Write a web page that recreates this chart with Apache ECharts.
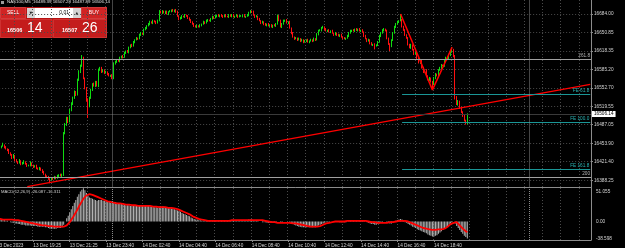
<!DOCTYPE html>
<html>
<head>
<meta charset="utf-8">
<script src="https://cdn.jsdelivr.net/npm/echarts@6/dist/echarts.min.js"></script>
<style>
  html, body { margin: 0; padding: 0; background: #000; }
  #chart { width: 625px; height: 248px; }
</style>
</head>
<body>
<div id="chart"></div>
<script>
// NAS100 M5, 13-14 Dec 2023 (FOMC spike)
const symbolName = 'NAS100,M5'
const firstOpen = 16440
const closes = [
  16442, 16444, 16447, 16449, 16451, 16447, 16444, 16442, 16437, 16433,
  16428, 16432, 16424, 16421, 16419, 16423, 16417, 16419, 16421, 16417,
  16414, 16415, 16419, 16414, 16412, 16414, 16410, 16408, 16410, 16407,
  16403, 16399, 16396, 16394, 16391, 16389, 16392, 16391, 16394, 16392,
  16396, 16398, 16396, 16399, 16472, 16487, 16499, 16492, 16513, 16524,
  16535, 16545, 16540, 16567, 16581, 16592, 16606, 16570, 16552, 16531,
  16520, 16535, 16549, 16559, 16556, 16563, 16556, 16584, 16588, 16581,
  16584, 16579, 16581, 16577, 16574, 16575, 16570, 16595, 16599, 16602,
  16600, 16606, 16609, 16607, 16615, 16618, 16616, 16624, 16629, 16627,
  16634, 16638, 16641, 16640, 16647, 16650, 16648, 16656, 16659, 16663,
  16666, 16670, 16668, 16672, 16670, 16668, 16673, 16688, 16686, 16689,
  16686, 16688, 16684, 16688, 16689, 16691, 16689, 16691, 16688, 16680,
  16675, 16677, 16680, 16679, 16682, 16680, 16677, 16673, 16670, 16666,
  16663, 16661, 16663, 16661, 16664, 16666, 16670, 16668, 16672, 16673,
  16672, 16675, 16679, 16677, 16680, 16682, 16680, 16682, 16680, 16679,
  16682, 16680, 16679, 16682, 16680, 16682, 16679, 16680, 16682, 16679,
  16680, 16680, 16682, 16679, 16680, 16682, 16686, 16689, 16688, 16682,
  16679, 16680, 16675, 16672, 16668, 16670, 16666, 16664, 16666, 16663,
  16664, 16661, 16664, 16663, 16666, 16680, 16673, 16661, 16666, 16672,
  16673, 16668, 16670, 16659, 16650, 16643, 16640, 16641, 16638, 16640,
  16636, 16638, 16634, 16636, 16638, 16634, 16636, 16638, 16636, 16640,
  16638, 16648, 16654, 16655, 16659, 16661, 16657, 16654, 16655, 16652,
  16654, 16650, 16647, 16650, 16647, 16645, 16647, 16643, 16641, 16640,
  16641, 16645, 16650, 16654, 16655, 16654, 16657, 16655, 16657, 16654,
  16655, 16652, 16645, 16640, 16636, 16638, 16632, 16629, 16630, 16627,
  16629, 16634, 16645, 16650, 16655, 16657, 16654, 16641, 16630, 16627,
  16638, 16650, 16661, 16666, 16670, 16672, 16673, 16662, 16655, 16647,
  16641, 16630, 16624, 16629, 16620, 16613, 16616, 16606, 16597, 16602,
  16588, 16581, 16584, 16574, 16567, 16570, 16563, 16559, 16570, 16577,
  16574, 16584, 16588, 16593, 16592, 16600, 16606, 16604, 16611, 16616,
  16620, 16609, 16536, 16524, 16529, 16517, 16510, 16503, 16495, 16489.39,
  16506.14
]
// wick lengths above / below the body, in points
const wickUp = [
  2, 1, 2, 1, 4, 1, 2, 1, 2, 1, 2, 3, 1, 2, 1, 3, 1, 2, 3, 1,
  2, 1, 3, 1, 2, 1, 2, 1, 2, 1, 1, 2, 1, 1, 2, 1, 2, 1, 2, 1,
  2, 1, 2, 1,
  2, 3, 2, 2, 2, 3, 2, 3, 2, 2, 3, 2, 5,
  2, 1, 2, 3, 2, 2, 2, 3, 2, 2,
  3, 2, 2, 2, 1, 2, 1, 2, 1, 2, 3, 2,
  2, 1, 2, 1, 2, 2, 1, 2, 2, 1, 2, 2,
  1, 2, 1, 2, 2, 1, 2, 2, 1, 2, 2, 1, 2, 1, 2, 1, 3,
  2, 2, 1, 2, 2, 1, 2, 1, 2, 1, 2, 2, 1,
  2, 2, 1, 2, 1, 2, 1, 2, 1, 2, 1, 2, 1,
  2, 1, 2, 1, 2, 2, 1, 2, 2, 1, 2, 1, 2, 1, 2, 2, 1, 2, 1, 2, 1, 2, 2, 1, 2, 1, 2,
  2, 1, 2, 1, 2, 2, 2, 1, 2, 1, 2, 1, 2, 1, 2, 1, 2, 1, 2, 1, 2, 1, 2, 2, 3, 2, 1, 2, 2, 1, 2, 1,
  2, 1, 2, 1, 2, 1, 2, 1, 2, 1, 2, 1, 2, 1, 2, 1, 2, 1,
  2, 2, 2, 2, 2, 1, 2, 1, 2, 1, 2, 1, 2, 1, 2, 1, 2, 1, 2, 1, 2, 2, 2, 1, 2, 1, 2, 1, 2, 1, 2,
  1, 2, 1, 2, 1, 2, 1, 2, 1, 2, 2, 2, 2, 2, 1, 2, 1, 2, 1, 2,
  2, 2, 2, 1, 11,
  2, 1, 2, 1, 2, 1, 2, 1, 2, 1, 2, 1, 2, 1, 2, 1, 2, 1, 2, 1, 2,
  2, 2, 1, 2, 2, 2, 1, 2, 2, 1, 2, 2, 5, 2,
  2, 2, 2, 1, 2, 1, 2, 1, 1.14
]
const wickDn = [
  1, 2, 1, 2, 1, 2, 1, 2, 2, 1, 2, 1, 2, 1, 2, 1, 2, 1, 2, 1,
  2, 1, 2, 1, 2, 1, 2, 1, 2, 2, 2, 1, 2, 1, 2, 6, 1, 2, 1, 2,
  1, 2, 1, 2,
  3, 2, 2, 2, 1, 2, 2, 2, 2, 1, 2, 2, 2,
  2, 2, 3, 21, 2, 2, 2, 1, 2, 1,
  2, 1, 2, 1, 2, 1, 2, 1, 2, 2, 2, 1,
  2, 1, 2, 1, 2, 1, 2, 1, 2, 1, 2, 1,
  2, 1, 2, 1, 2, 1, 2, 1, 2, 1, 2, 1, 2, 1, 2, 1, 2,
  1, 2, 1, 2, 1, 2, 1, 2, 1, 2, 2, 1, 2,
  1, 2, 1, 2, 1, 2, 1, 2, 1, 2, 1, 2, 1,
  1, 2, 1, 2, 1, 2, 1, 2, 1, 2, 1, 2, 1, 2, 1, 2, 1, 2, 1, 2, 1, 2, 1, 2, 1, 2, 1,
  1, 2, 1, 2, 1, 2, 1, 2, 1, 2, 1, 2, 1, 2, 1, 2, 1, 2, 1, 2, 1, 2, 1, 2, 1, 2, 1, 2, 1, 2, 1, 2,
  1, 2, 1, 2, 1, 2, 1, 2, 1, 2, 1, 2, 1, 2, 1, 2, 1, 2,
  1, 2, 1, 2, 1, 2, 1, 2, 1, 2, 1, 2, 1, 2, 1, 2, 1, 2, 1, 2, 1, 2, 1, 2, 1, 2, 1, 2, 1, 2, 1,
  2, 1, 2, 1, 2, 1, 2, 6, 1, 2, 1, 2, 1, 2, 1, 2, 1, 9, 2, 2,
  1, 2, 1, 2, 1,
  2, 1, 2, 1, 2, 1, 2, 1, 2, 1, 2, 1, 2, 1, 2, 1, 2, 1, 2, 1, 10,
  1, 2, 1, 2, 1, 2, 1, 2, 1, 2, 1, 2, 1, 2,
  4, 2, 3, 2, 2, 2, 2, 2, 1.5
]
const askPrice = 16507.26

// MACD(12,26,9): main line (histogram) and signal line
const macdMain = [
  3, 3, 3, 2, 2, 2, 1, 1, 0, -1, -2, -2, -3, -3, -4, -4, -5, -5, -5, -6,
  -6, -6, -6, -7, -7, -7, -7, -8, -8, -8, -8, -8, -9, -9, -10, -11, -11, -11, -11, -11,
  -10, -10, -10, -9,
  -5, 0, 5, 9, 14, 19, 24, 29, 33, 38, 42, 46, 49,
  51.055, 48, 44, 40,
  37, 36, 35, 34, 33, 32,
  33, 33, 33, 32, 32, 31, 30, 30, 29, 28, 29, 30,
  29, 28, 28, 27, 26, 26, 25, 25, 25, 24, 24, 24,
  24, 24, 24, 24, 24, 24, 24, 24, 24, 24, 23, 23, 23, 22, 22, 21, 23,
  23, 23, 23, 22, 22, 21, 21, 20, 20, 19, 18, 17, 16,
  15, 13, 12, 11, 10, 9, 8, 6, 5, 4, 3, 3, 2,
  2, 1, 1, 1, 1, 1, 1, 1, 2, 2, 2, 2, 2, 2, 2, 2, 2, 2, 2, 2, 2, 2, 2, 2, 2, 2, 2,
  2, 2, 2, 2, 2, 3, 3, 3, 2, 2, 2, 1, 0, 0, -1, -1, -1, -2, -2, -2, -2, -2, -2, -2, 0, 0, -1, -1, 0, 0, 0, 0,
  -1, -3, -4, -5, -6, -7, -8, -8, -9, -9, -9, -9, -9, -9, -9, -9, -9, -9,
  -8, -6, -5, -4, -3, -2, -1, -1, -1, 0, 0, 0, 0, 0, 0, -1, -1, -1, -1, -1, 0, 1, 1, 2, 2, 2, 2, 2, 2, 2, 2,
  1, 0, -1, -2, -3, -4, -4, -5, -5, -4, -3, -2, -1, 0, 0, -1, -2, -3, -3, -2,
  0, 1, 2, 3, 4,
  3, 1, -1, -2, -4, -5, -6, -8, -9, -10, -12, -13, -14, -15, -16, -17, -18, -20, -21, -22, -23,
  -23, -22, -21, -19, -17, -15, -13, -11, -9, -7, -5, -3, -1, 0,
  -3, -7, -10, -13, -16, -19, -22, -24, -26.087
]
const macdSignal = [
  4, 4, 4, 4, 3, 3, 3, 3, 3, 3, 3, 3, 2, 2, 2, 1, 1, 0, 0, -1,
  -1, -2, -2, -3, -3, -4, -4, -5, -5, -5, -6, -6, -6, -7, -7, -7, -7, -8, -8, -8,
  -8, -8, -8, -8,
  -8, -7, -6, -4, -1, 2, 6, 10, 14, 18, 23, 27, 31,
  35, 38, 40, 42,
  42, 42, 41, 40, 39, 38,
  37, 36, 35, 34, 33, 32, 31, 31, 30, 30, 29, 29,
  28, 28, 28, 27, 27, 27, 26, 26, 26, 25, 25, 25,
  25, 25, 24, 24, 24, 24, 24, 24, 24, 24, 24, 23, 23, 23, 23, 23, 22,
  22, 22, 22, 22, 22, 21, 21, 21, 20, 20, 19, 19, 18,
  17, 16, 15, 14, 13, 12, 11, 9, 8, 7, 6, 5, 4,
  3, 3, 2, 2, 2, 1, 1, 1, 1, 1, 1, 1, 1, 1, 1, 1, 1, 1, 1, 1, 1, 2, 2, 2, 2, 2, 2,
  2, 2, 2, 2, 2, 2, 2, 2, 2, 2, 2, 2, 2, 2, 2, 1, 1, 1, 0, 0, -1, -1, -1, -1, -2, -2, -2, -2, -2, -2, -2, -2,
  -2, -2, -3, -3, -3, -4, -4, -5, -5, -6, -6, -7, -7, -7, -8, -8, -8, -8,
  -8, -8, -7, -6, -5, -4, -3, -3, -2, -2, -1, -1, 0, 0, 0, 0, 0, 0, 0, 1, 1, 1, 1, 1, 1, 1, 1, 1, 1, 1, 1,
  1, 1, 0, 0, 0, -1, -1, -1, -2, -2, -2, -2, -2, -2, -2, -2, -2, -1, -1, -1,
  -1, 0, 0, 1, 1,
  1, 1, 1, 1, 0, -1, -2, -3, -4, -5, -6, -7, -8, -9, -10, -11, -11, -12, -12, -13, -13,
  -13, -13, -13, -12, -12, -12, -11, -11, -10, -8, -6, -4, -3, -2, -1, -1,
  -3, -6, -9, -11, -13, -15, -16.311
]

// axes
const slotCount = 392 // bar slots across the window, incl. the empty chart shift
const priceTicks = [16684.00, 16650.85, 16618.35, 16585.20, 16552.70, 16519.55, 16487.05, 16453.90, 16421.40, 16388.25]
const macdTicks = [51.055, 0, -38.598]
const timeLabels = ['13 Dec 2023', '13 Dec 19:25', '13 Dec 21:25', '13 Dec 23:40', '14 Dec 02:40', '14 Dec 04:40',
  '14 Dec 06:40', '14 Dec 08:40', '14 Dec 10:40', '14 Dec 12:40', '14 Dec 14:40', '14 Dec 16:40', '14 Dec 18:40']
const timeLabelBars = [0, 24, 48, 72, 96, 120, 144, 168, 192, 216, 240, 264, 288]
const daySeparators = [76, 351]

// drawn objects
const trendLine = [[20, 16377], [391, 16559]]
const zigzag = [[266, 16684], [287, 16549], [300, 16625]]
const fiboLevels = [{ name: '261.8', value: 16603.4 }, { name: '200', value: 16393.6 }]
const expansionStart = 267
const expansionLevels = [
  { name: 'FE 61.8', value: 16540.8 },
  { name: 'FE 100.0', value: 16490.7 },
  { name: 'FE 161.8', value: 16407.8 }
]

const candles = closes.map(function(c, i) {
  const o = i ? closes[i - 1] : firstOpen
  return [o, c, Math.min(o, c) - wickDn[i], Math.max(o, c) + wickUp[i]]
})
const last = candles[candles.length - 1]
const slots = []
for (let i = 0; i < slotCount; i++) slots.push(String(i))
const labelAt = {}
timeLabelBars.forEach(function(b, k) { labelAt[b] = timeLabels[k] })

const font = 'Liberation Sans'
const axisText = '#d4d4d4'
const frame = '#8c8c8c'
const gridColor = '#4a4a4a'
const bull = '#10dc10'
const bear = '#ff1010'
const teal = '#1a9696'
const fs = 4.7
const everyHour = function(i) { return i % 12 === 0 }
const hasLabel = function(i) { return labelAt[i] !== undefined }

const chart = echarts.init(document.getElementById('chart'))

function separators() {
  return {
    silent: true,
    symbol: ['none', 'none'],
    animation: false,
    label: { show: false },
    lineStyle: { color: '#8a8a8a', type: [1, 1], width: 1 },
    data: daySeparators.map(function(b) { return { xAxis: b } })
  }
}

const plainX = function(grid) {
  return {
    gridIndex: grid,
    type: 'category',
    data: slots,
    boundaryGap: true,
    axisLine: { show: false },
    axisTick: { show: false },
    axisLabel: { show: false },
    splitLine: { show: false }
  }
}

const option = {
  backgroundColor: '#000',
  animation: false,
  textStyle: { fontFamily: font },
  grid: [
    // price window
    { left: -3.86, right: 34, top: 0, height: 187.5, outerBoundsMode: 'none' },
    // MACD values (scale runs a bit below the frame)
    { left: -3.86, right: 34, top: 188.3, height: 58.3, outerBoundsMode: 'none' },
    // MACD window frame, grid and time scale
    { left: -3.86, right: 34, top: 188, height: 52, outerBoundsMode: 'none' }
  ],
  xAxis: [
    {
      gridIndex: 0,
      type: 'category',
      data: slots,
      boundaryGap: true,
      axisLine: { show: true, onZero: false, lineStyle: { color: frame } },
      axisTick: { show: false },
      axisLabel: { show: false },
      splitLine: { show: true, interval: everyHour, lineStyle: { color: gridColor, type: [1, 2] } }
    },
    plainX(1),
    {
      gridIndex: 2,
      type: 'category',
      data: slots,
      boundaryGap: true,
      axisLine: { show: true, onZero: false, lineStyle: { color: frame } },
      axisTick: { show: true, length: 2, alignWithLabel: true, interval: hasLabel, lineStyle: { color: frame } },
      axisLabel: {
        show: true,
        interval: hasLabel,
        formatter: function(v, i) { return labelAt[i] || '' },
        align: 'left',
        margin: 3,
        color: axisText,
        fontSize: fs,
        fontFamily: font
      },
      splitLine: { show: true, interval: everyHour, lineStyle: { color: gridColor, type: [1, 2] } }
    }
  ],
  yAxis: [
    {
      gridIndex: 0,
      type: 'value',
      position: 'right',
      min: 16375.4,
      max: 16708.9,
      axisLine: { show: true, lineStyle: { color: frame } },
      axisTick: { show: true, length: 2, customValues: priceTicks, lineStyle: { color: frame } },
      axisLabel: {
        customValues: priceTicks,
        formatter: function(v) { return v.toFixed(2) },
        color: axisText,
        fontSize: fs,
        fontFamily: font,
        margin: 3
      },
      splitLine: { show: true, lineStyle: { color: gridColor, type: [1, 2] } }
    },
    {
      gridIndex: 1,
      type: 'value',
      position: 'right',
      min: -38.598,
      max: 51.055,
      axisLine: { show: false },
      axisTick: { show: false },
      axisLabel: {
        customValues: macdTicks,
        formatter: function(v) {
          if (v === macdTicks[0]) return '{hi|' + v + '}'
          if (v === macdTicks[2]) return '{lo|' + v + '}'
          return '{mid|' + v.toFixed(2) + '}'
        },
        margin: 5,
        rich: {
          hi: { color: axisText, fontSize: fs, fontFamily: font, padding: [6, 0, 0, 0] },
          mid: { color: axisText, fontSize: fs, fontFamily: font },
          lo: { color: axisText, fontSize: fs, fontFamily: font, padding: [0, 0, 16.6, 0] }
        }
      },
      splitLine: { show: false }
    },
    {
      gridIndex: 2,
      type: 'value',
      position: 'right',
      min: 0,
      max: 1,
      axisLine: { show: true, lineStyle: { color: frame } },
      axisTick: { show: false },
      axisLabel: { show: false },
      splitLine: { show: false }
    }
  ],
  series: [
    {
      name: symbolName,
      type: 'candlestick',
      xAxisIndex: 0,
      yAxisIndex: 0,
      data: candles,
      barWidth: 1,
      itemStyle: {
        color: bull,
        color0: bear,
        borderColor: bull,
        borderColor0: bear,
        borderWidth: 1
      },
      markLine: {
        silent: true,
        symbol: ['none', 'none'],
        animation: false,
        label: {
          position: 'insideEndTop',
          formatter: '{b}',
          fontSize: fs,
          fontFamily: font,
          distance: 1
        },
        data: fiboLevels.map(function(l) {
          return {
            name: l.name,
            yAxis: l.value,
            lineStyle: { color: '#a0a0a0', type: 'solid', width: 1 },
            label: { color: '#b4b4b4' }
          }
        }).concat(expansionLevels.map(function(l) {
          return [
            {
              name: l.name,
              coord: [expansionStart, l.value],
              lineStyle: { color: teal, type: 'solid', width: 1 },
              label: { color: '#2ab4b4' }
            },
            { coord: [slotCount - 1, l.value] }
          ]
        })).concat([{
          name: 'bid',
          yAxis: last[1],
          lineStyle: { color: '#3a3a3a', type: 'solid', width: 1 },
          label: {
            position: 'end',
            formatter: last[1].toFixed(2),
            backgroundColor: '#ffffff',
            color: '#000',
            padding: [1, 2, 0, 2],
            distance: 1
          }
        }])
      }
    },
    {
      type: 'line',
      xAxisIndex: 0,
      yAxisIndex: 0,
      data: ['-'],
      silent: true,
      markLine: separators()
    },
    {
      name: 'trend',
      type: 'line',
      xAxisIndex: 0,
      yAxisIndex: 0,
      data: trendLine,
      symbol: 'none',
      silent: true,
      z: 4,
      lineStyle: { color: '#ff0000', width: 1.3 }
    },
    {
      name: 'zigzag',
      type: 'line',
      xAxisIndex: 0,
      yAxisIndex: 0,
      data: zigzag,
      symbol: 'none',
      silent: true,
      z: 4,
      lineStyle: { color: '#ff0000', width: 1.5 }
    },
    {
      type: 'line',
      xAxisIndex: 2,
      yAxisIndex: 2,
      data: ['-'],
      silent: true,
      markLine: separators()
    },
    {
      name: 'MACD',
      type: 'bar',
      xAxisIndex: 1,
      yAxisIndex: 1,
      data: macdMain,
      barWidth: 1,
      itemStyle: { color: '#b4b4b4' }
    },
    {
      name: 'Signal',
      type: 'line',
      xAxisIndex: 1,
      yAxisIndex: 1,
      data: macdSignal,
      symbol: 'none',
      silent: true,
      lineStyle: { color: '#ff0000', width: 1.8 }
    }
  ],
  graphic: [
    // symbol info line
    { type: 'rect', shape: { x: 1, y: 1, width: 3, height: 3 }, style: { fill: '#9a9a9a' } },
    {
      type: 'text', x: 7, y: 0,
      style: {
        text: symbolName + '  ' + [last[0], last[3], last[2], last[1]].map(function(v) { return v.toFixed(2) }).join(' '),
        fill: '#e0e0e0', fontSize: 4.4, fontFamily: font
      }
    },
    // one click trading panel
    { type: 'rect', shape: { x: 0, y: 7, width: 107, height: 31 }, style: { fill: '#b81414' } },
    { type: 'rect', shape: { x: 0.5, y: 7.5, width: 25, height: 11 }, style: { fill: '#d02424', stroke: '#e25a5a', lineWidth: 0.5 } },
    { type: 'text', x: 7, y: 10.5, style: { text: 'SELL', fill: '#fff', fontSize: 5, fontFamily: font } },
    { type: 'rect', shape: { x: 27, y: 8, width: 8, height: 10 }, style: { fill: '#d4d4d4' } },
    { type: 'text', x: 29.5, y: 11, style: { text: '▼', fill: '#222', fontSize: 3.5, fontFamily: 'DejaVu Sans' } },
    { type: 'rect', shape: { x: 35, y: 8, width: 38, height: 10 }, style: { fill: '#ffffff' } },
    { type: 'text', x: 69, y: 10.5, style: { text: '0.01', fill: '#000', fontSize: 5, fontFamily: font, align: 'right' } },
    { type: 'rect', shape: { x: 73, y: 8, width: 8, height: 10 }, style: { fill: '#d4d4d4' } },
    { type: 'text', x: 75.5, y: 11, style: { text: '▲', fill: '#222', fontSize: 3.5, fontFamily: 'DejaVu Sans' } },
    { type: 'rect', shape: { x: 81.5, y: 7.5, width: 25, height: 11 }, style: { fill: '#d02424', stroke: '#e25a5a', lineWidth: 0.5 } },
    { type: 'text', x: 94, y: 10.5, style: { text: 'BUY', fill: '#fff', fontSize: 5, fontFamily: font, align: 'center' } },
    { type: 'rect', shape: { x: 0.5, y: 19.5, width: 51.5, height: 18 }, style: { fill: '#c41c1c', stroke: '#e04a4a', lineWidth: 0.5 } },
    { type: 'rect', shape: { x: 53.5, y: 19.5, width: 53, height: 18 }, style: { fill: '#c41c1c', stroke: '#e04a4a', lineWidth: 0.5 } },
    { type: 'text', x: 7, y: 27, style: { text: last[1].toFixed(2).slice(0, 5), fill: '#fff', fontSize: 5.5, fontWeight: 'bold', fontFamily: font } },
    { type: 'text', x: 27, y: 21, style: { text: last[1].toFixed(2).slice(6), fill: '#fff', fontSize: 14, fontFamily: font } },
    { type: 'text', x: 62, y: 27, style: { text: askPrice.toFixed(2).slice(0, 5), fill: '#fff', fontSize: 5.5, fontWeight: 'bold', fontFamily: font } },
    { type: 'text', x: 82, y: 21, style: { text: askPrice.toFixed(2).slice(6), fill: '#fff', fontSize: 14, fontFamily: font } },
    // MACD caption
    {
      type: 'text', x: 1, y: 189.5,
      style: {
        text: 'MACD(12,26,9) ' + macdMain[macdMain.length - 1].toFixed(3) + ' ' + macdSignal[macdSignal.length - 1].toFixed(3),
        fill: '#d0d0d0', fontSize: 4.2, fontFamily: font
      }
    }
  ]
}

chart.setOption(option)
</script>
</body>
</html>
